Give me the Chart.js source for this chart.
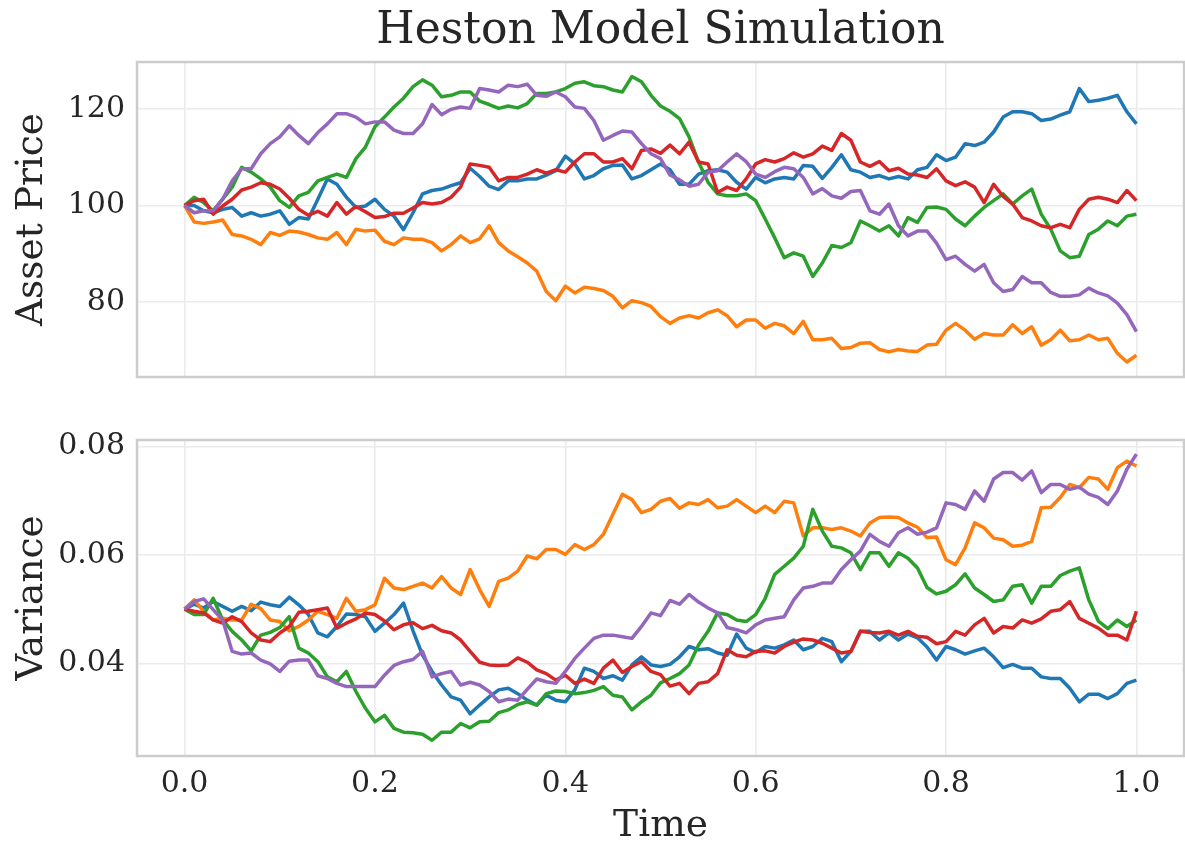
<!DOCTYPE html>
<html>
<head>
<meta charset="utf-8">
<title>Heston Model Simulation</title>
<script src="https://cdn.jsdelivr.net/npm/chart.js@4.4.1/dist/chart.umd.min.js"></script>
<style>
  body { margin: 0; background: #fff; }
  #wrap { position: relative; width: 1185px; height: 845px; }
  .box { position: absolute; left: 0; width: 1185px; }
</style>
</head>
<body>
<div id="wrap">
  <div class="box" style="top:0;height:380px"><canvas id="price" width="1185" height="380"></canvas></div>
  <div class="box" style="top:380px;height:465px"><canvas id="variance" width="1185" height="465"></canvas></div>
</div>
<script>
// time grid (x values) and tick labels
const times = [0,0.01,0.02,0.03,0.04,0.05,0.06,0.07,0.08,0.09,0.1,0.11,0.12,0.13,0.14,0.15,0.16,0.17,0.18,0.19,
  0.2,0.21,0.22,0.23,0.24,0.25,0.26,0.27,0.28,0.29,0.3,0.31,0.32,0.33,0.34,0.35,0.36,0.37,0.38,0.39,
  0.4,0.41,0.42,0.43,0.44,0.45,0.46,0.47,0.48,0.49,0.5,0.51,0.52,0.53,0.54,0.55,0.56,0.57,0.58,0.59,
  0.6,0.61,0.62,0.63,0.64,0.65,0.66,0.67,0.68,0.69,0.7,0.71,0.72,0.73,0.74,0.75,0.76,0.77,0.78,0.79,
  0.8,0.81,0.82,0.83,0.84,0.85,0.86,0.87,0.88,0.89,0.9,0.91,0.92,0.93,0.94,0.95,0.96,0.97,0.98,0.99,1];
const timeTicks = [0, 0.2, 0.4, 0.6, 0.8, 1.0];
const priceTicks = [80, 100, 120];
const varianceTicks = [0.04, 0.06, 0.08];

// asset price paths
const priceBlue = [100,100.0,98.9,98.5,99.2,99.6,97.8,98.5,97.8,98.2,98.9,96.1,97.5,97.2,101.3,105.5,104.4,101.7,99.6,99.9,
  101.3,99.2,97.8,95.0,98.5,102.4,103.1,103.4,104.1,104.7,107.7,106.0,104.0,103.3,105.1,105.1,105.5,105.5,106.3,107.2,
  110.2,108.6,105.5,106.2,107.6,108.3,108.4,105.5,106.2,107.4,108.6,107.4,104.4,104.4,106.5,107.2,107.4,106.9,104.8,103.4,
  105.8,104.7,105.5,105.8,105.5,108.3,108.1,105.6,107.9,110.5,107.4,106.9,105.8,106.2,105.5,106.0,105.5,107.4,107.9,110.5,
  109.3,110.0,112.8,112.4,113.1,115.2,118.3,119.4,119.4,119.0,117.6,117.9,118.7,119.4,124.2,121.5,121.8,122.2,122.8,119.4,116.9];
const priceOrange = [100,96.6,96.3,96.6,97.0,94.0,93.7,93.0,91.9,94.4,93.8,94.7,94.5,94.0,93.3,93.0,94.4,91.9,95.1,94.7,
  94.9,92.6,91.9,93.3,93.0,93.0,92.3,90.6,91.9,93.7,92.3,93.1,95.8,92.3,90.6,89.4,88.1,86.4,82.2,80.3,
  83.3,81.9,83.1,82.8,82.4,81.2,78.8,80.3,79.9,79.1,77.0,75.6,76.7,77.2,76.7,77.8,78.4,77.2,74.9,76.3,
  76.3,74.6,75.6,75.1,73.5,76.0,72.2,72.2,72.5,70.4,70.6,71.5,71.6,70.2,69.7,70.2,69.9,69.8,71.1,71.3,
  74.2,75.6,74.2,72.3,73.5,73.2,73.2,75.3,73.5,74.9,71.1,72.2,74.2,72.0,72.2,73.2,72.2,72.5,69.4,67.6,69.0];
const priceGreen = [100,101.7,100.6,98.9,101.3,103.8,107.9,106.9,105.5,103.8,101.0,99.6,102.0,102.7,105.1,105.8,106.5,105.8,109.7,112.1,
  116.3,118.3,120.4,122.2,124.6,126.0,124.9,122.5,122.8,123.5,123.5,121.6,120.9,120.1,120.6,120.2,121.1,123.2,123.2,123.5,
  124.2,125.3,125.6,124.8,124.6,123.9,123.5,126.7,125.6,122.8,120.6,119.5,118.0,114.2,109.0,104.8,102.4,102.0,102.0,102.4,
  101.0,97.2,93.3,89.2,90.2,89.5,85.3,88.1,91.7,91.3,92.3,96.8,95.8,94.7,95.8,93.7,97.5,96.5,99.6,99.7,
  99.2,97.2,95.8,97.8,99.6,101.0,102.4,100.3,102.0,103.4,98.2,95.1,90.6,89.2,89.5,94.0,95.1,96.8,95.8,97.8,98.2];
const priceRed = [100,101.0,101.3,98.2,99.9,101.3,103.2,103.8,104.7,104.4,103.4,101.5,99.2,98.0,98.8,97.8,100.6,98.2,99.8,98.7,
  97.5,97.7,98.4,98.4,99.5,100.6,100.3,100.6,101.7,103.8,108.6,108.3,107.9,105.1,105.8,105.8,106.5,107.4,106.7,107.4,
  106.9,109.0,110.7,110.7,109.0,109.0,109.7,107.6,111.4,111.7,110.8,112.5,110.7,113.1,109.0,108.6,102.7,103.8,103.1,105.5,
  108.6,109.5,109.0,109.7,110.9,110.0,110.7,112.3,111.4,114.9,113.5,109.0,108.1,109.1,107.2,107.7,106.5,106.3,105.8,107.6,
  105.1,104.1,104.9,103.8,100.6,104.4,101.9,100.3,97.5,96.8,95.8,95.4,96.1,95.4,99.2,101.3,101.7,101.3,100.6,103.1,101.0];
const pricePurple = [100,98.5,98.9,98.9,101.3,105.1,107.6,107.6,110.7,112.8,114.2,116.5,114.5,112.8,115.1,116.9,119.0,119.0,118.3,116.9,
  117.3,117.3,115.6,114.9,114.9,116.9,120.9,118.8,119.9,120.4,120.1,124.2,123.9,123.5,124.9,124.6,125.1,122.8,122.6,123.5,
  122.5,120.4,120.1,117.6,113.5,114.5,115.4,115.2,112.8,110.7,109.7,106.3,105.3,104.0,104.4,106.9,107.2,109.0,110.7,109.1,
  106.5,105.8,107.0,107.9,107.6,105.8,102.4,103.5,102.0,101.5,102.9,103.1,98.9,98.2,100.3,95.8,93.7,94.7,94.7,92.2,
  88.8,89.5,87.8,86.4,87.8,84.0,82.2,82.6,85.3,84.0,84.0,82.0,81.2,81.2,81.5,82.9,81.9,81.3,79.8,77.4,73.9];

// variance paths
const varBlue = [0.0500,0.0509,0.0502,0.0514,0.0505,0.0496,0.0505,0.0497,0.0513,0.0508,0.0505,0.0522,0.0508,0.0490,0.0456,0.0449,0.0468,0.0491,0.0490,0.0486,
  0.0459,0.0474,0.0490,0.0511,0.0460,0.0415,0.0385,0.0360,0.0338,0.0332,0.0307,0.0323,0.0338,0.0351,0.0354,0.0344,0.0332,0.0323,0.0341,0.0332,
  0.0329,0.0351,0.0391,0.0385,0.0372,0.0377,0.0369,0.0397,0.0412,0.0397,0.0394,0.0398,0.0412,0.0431,0.0425,0.0427,0.0419,0.0415,0.0454,0.0428,
  0.0420,0.0431,0.0428,0.0434,0.0443,0.0425,0.0431,0.0446,0.0440,0.0403,0.0422,0.0459,0.0459,0.0443,0.0456,0.0443,0.0454,0.0447,0.0430,0.0406,
  0.0431,0.0425,0.0417,0.0423,0.0428,0.0412,0.0392,0.0398,0.0391,0.0391,0.0375,0.0372,0.0372,0.0354,0.0329,0.0343,0.0343,0.0335,0.0344,0.0363,0.0369];
const varOrange = [0.0500,0.0517,0.0496,0.0480,0.0483,0.0480,0.0480,0.0509,0.0501,0.0480,0.0477,0.0460,0.0468,0.0480,0.0496,0.0490,0.0483,0.0520,0.0496,0.0499,
  0.0508,0.0557,0.0539,0.0536,0.0542,0.0548,0.0539,0.0560,0.0539,0.0527,0.0573,0.0536,0.0505,0.0551,0.0557,0.0570,0.0598,0.0593,0.0610,0.0610,
  0.0601,0.0619,0.0610,0.0619,0.0638,0.0675,0.0712,0.0702,0.0678,0.0684,0.0699,0.0704,0.0686,0.0696,0.0693,0.0702,0.0687,0.0690,0.0702,0.0690,
  0.0678,0.0690,0.0678,0.0699,0.0696,0.0635,0.0650,0.0650,0.0647,0.0650,0.0644,0.0635,0.0659,0.0669,0.0670,0.0669,0.0659,0.0651,0.0632,0.0633,
  0.0591,0.0582,0.0613,0.0659,0.0650,0.0631,0.0628,0.0616,0.0618,0.0625,0.0687,0.0688,0.0706,0.0730,0.0724,0.0743,0.0740,0.0721,0.0761,0.0773,0.0764];
const varGreen = [0.0500,0.0490,0.0490,0.0520,0.0480,0.0459,0.0443,0.0423,0.0452,0.0457,0.0466,0.0486,0.0428,0.0419,0.0403,0.0375,0.0366,0.0385,0.0348,0.0317,
  0.0292,0.0304,0.0280,0.0273,0.0272,0.0269,0.0258,0.0273,0.0273,0.0289,0.0281,0.0292,0.0293,0.0309,0.0314,0.0324,0.0329,0.0323,0.0344,0.0349,
  0.0348,0.0344,0.0346,0.0350,0.0357,0.0341,0.0338,0.0314,0.0329,0.0341,0.0364,0.0372,0.0381,0.0397,0.0434,0.0459,0.0493,0.0490,0.0480,0.0477,
  0.0490,0.0520,0.0564,0.0579,0.0594,0.0616,0.0684,0.0644,0.0616,0.0613,0.0604,0.0573,0.0604,0.0604,0.0579,0.0604,0.0594,0.0576,0.0540,0.0528,
  0.0533,0.0545,0.0565,0.0539,0.0527,0.0514,0.0517,0.0542,0.0545,0.0511,0.0542,0.0542,0.0562,0.0570,0.0576,0.0517,0.0478,0.0464,0.0480,0.0468,0.0480];
const varRed = [0.0500,0.0496,0.0493,0.0480,0.0474,0.0486,0.0477,0.0456,0.0443,0.0440,0.0456,0.0468,0.0494,0.0496,0.0499,0.0502,0.0465,0.0474,0.0482,0.0493,
  0.0490,0.0478,0.0462,0.0471,0.0475,0.0464,0.0470,0.0460,0.0456,0.0443,0.0422,0.0402,0.0397,0.0396,0.0397,0.0410,0.0402,0.0388,0.0381,0.0369,
  0.0378,0.0363,0.0371,0.0363,0.0391,0.0406,0.0383,0.0394,0.0403,0.0385,0.0379,0.0358,0.0363,0.0344,0.0363,0.0366,0.0381,0.0425,0.0415,0.0412,
  0.0422,0.0423,0.0419,0.0431,0.0439,0.0445,0.0443,0.0437,0.0428,0.0419,0.0422,0.0459,0.0457,0.0456,0.0459,0.0452,0.0459,0.0450,0.0448,0.0436,
  0.0440,0.0459,0.0452,0.0471,0.0483,0.0456,0.0468,0.0465,0.0480,0.0474,0.0482,0.0496,0.0499,0.0514,0.0483,0.0474,0.0465,0.0452,0.0452,0.0443,0.0496];
const varPurple = [0.0500,0.0514,0.0519,0.0499,0.0480,0.0422,0.0417,0.0419,0.0406,0.0399,0.0385,0.0404,0.0406,0.0406,0.0377,0.0372,0.0363,0.0357,0.0357,0.0357,
  0.0357,0.0378,0.0396,0.0403,0.0407,0.0422,0.0375,0.0381,0.0385,0.0360,0.0365,0.0360,0.0348,0.0329,0.0334,0.0332,0.0352,0.0371,0.0366,0.0363,
  0.0385,0.0409,0.0428,0.0446,0.0452,0.0452,0.0449,0.0446,0.0468,0.0493,0.0488,0.0516,0.0509,0.0527,0.0513,0.0502,0.0493,0.0466,0.0462,0.0456,
  0.0471,0.0480,0.0483,0.0486,0.0517,0.0539,0.0542,0.0548,0.0548,0.0573,0.0591,0.0607,0.0638,0.0625,0.0616,0.0641,0.0650,0.0638,0.0642,0.0650,
  0.0696,0.0693,0.0684,0.0718,0.0699,0.0740,0.0752,0.0752,0.0738,0.0755,0.0715,0.0730,0.0730,0.0721,0.0725,0.0712,0.0706,0.0693,0.0718,0.0758,0.0786];

const colors = ['#1f77b4', '#ff7f0e', '#2ca02c', '#d62728', '#9467bd'];
const textColor = '#262626';
const gridColor = '#ebebeb';

Chart.defaults.font.family = '"DejaVu Serif", serif';
Chart.defaults.color = textColor;

// light grey box round the plot area, drawn over the lines like matplotlib spines
const frame = {
  id: 'frame',
  afterDraw(chart) {
    const {ctx, chartArea: a} = chart;
    ctx.save();
    ctx.strokeStyle = '#cccccc';
    ctx.lineWidth = 2.5;
    ctx.strokeRect(a.left, a.top, a.right - a.left, a.bottom - a.top);
    ctx.restore();
  }
};

function makeSets(series) {
  return series.map((vals, i) => ({
    label: 'Path ' + (i + 1),
    data: vals.map((v, j) => ({x: times[j], y: v})),
    borderColor: colors[i],
    backgroundColor: colors[i],
    borderWidth: 3.5,
    borderJoinStyle: 'round',
    pointRadius: 0,
    tension: 0,
    order: series.length - i
  }));
}

function xScale(showLabels) {
  return {
    type: 'linear',
    min: -0.05,
    max: 1.05,
    afterBuildTicks: s => { s.ticks = timeTicks.map(v => ({value: v})); },
    grid: {color: gridColor, lineWidth: 1.6, drawTicks: false},
    border: {display: false},
    ticks: {display: showLabels, padding: 10, font: {size: 30}, color: textColor,
      callback: v => v.toFixed(1)},
    title: {display: showLabels, text: 'Time', font: {size: 37.5, lineHeight: 1}, color: textColor,
      padding: {top: 0, bottom: 0}},
    afterFit: s => {
      s.height = showLabels ? 89 : 3;
      s.paddingLeft = 0;
      s.paddingRight = 0;
    }
  };
}

function yScale(min, max, tickVals, digits, label) {
  return {
    min: min,
    max: max,
    afterBuildTicks: s => { s.ticks = tickVals.map(v => ({value: v})); },
    grid: {color: gridColor, lineWidth: 1.6, drawTicks: false},
    border: {display: false},
    ticks: {padding: 12, font: {size: 30}, color: textColor,
      callback: v => v.toFixed(digits)},
    title: {display: true, text: label, font: {size: 37.5, lineHeight: 1}, color: textColor,
      padding: {top: 14, bottom: 0}},
    afterFit: s => {
      s.width = 137;
      s.paddingTop = 0;
      s.paddingBottom = 0;
    }
  };
}

new Chart(document.getElementById('price'), {
  type: 'line',
  data: {datasets: makeSets([priceBlue, priceOrange, priceGreen, priceRed, pricePurple])},
  options: {
    responsive: false,
    animation: false,
    layout: {padding: {left: 0, right: 1, top: 0, bottom: 0}},
    plugins: {
      legend: {display: false},
      tooltip: {enabled: false},
      title: {display: true, fullSize: false, text: 'Heston Model Simulation', color: textColor,
        font: {size: 44, weight: 'normal'}, padding: {top: 5, bottom: 4.2}}
    },
    scales: {
      x: xScale(false),
      y: yScale(64.5, 129.7, priceTicks, 0, 'Asset Price')
    }
  },
  plugins: [frame]
});

new Chart(document.getElementById('variance'), {
  type: 'line',
  data: {datasets: makeSets([varBlue, varOrange, varGreen, varRed, varPurple])},
  options: {
    responsive: false,
    animation: false,
    layout: {padding: {left: 0, right: 1, top: 60, bottom: 0}},
    plugins: {
      legend: {display: false},
      tooltip: {enabled: false}
    },
    scales: {
      x: xScale(true),
      y: yScale(0.0229, 0.0812, varianceTicks, 2, 'Variance')
    }
  },
  plugins: [frame]
});
</script>
</body>
</html>
